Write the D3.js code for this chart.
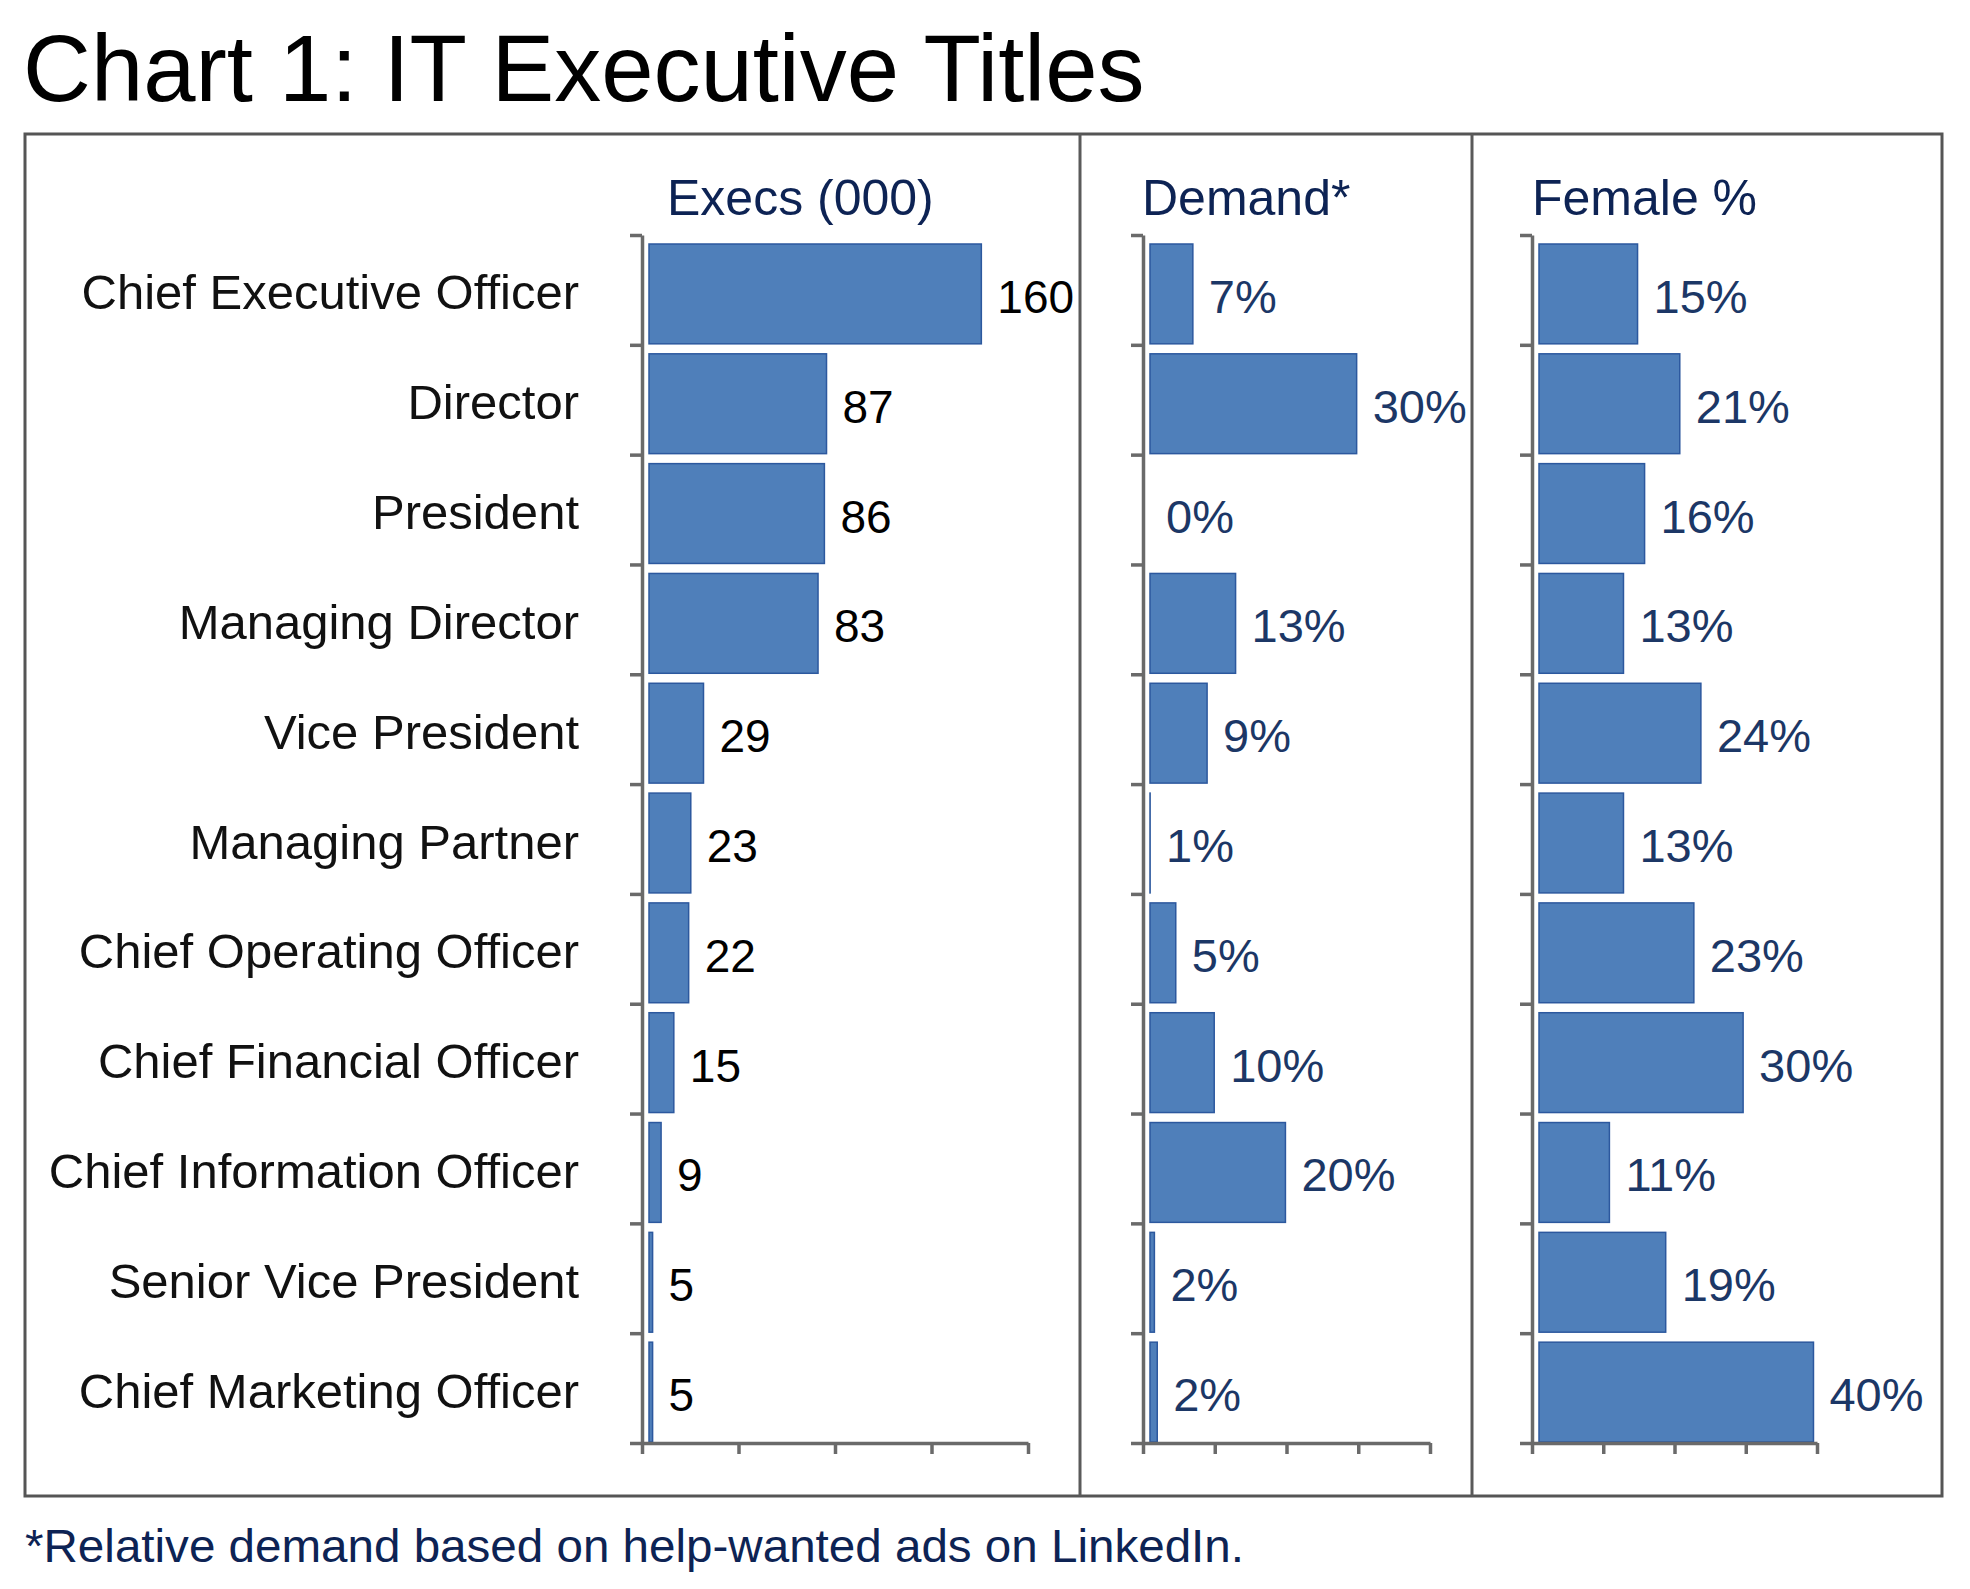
<!DOCTYPE html>
<html>
<head>
<meta charset="utf-8">
<script src="https://cdn.jsdelivr.net/npm/d3@7"></script>
<style>
  html, body { margin: 0; padding: 0; background: #ffffff; }
  svg { display: block; }
  text { font-family: "Liberation Sans", Arial, Helvetica, sans-serif; }
</style>
</head>
<body>
<svg id="chart" width="1970" height="1589"></svg>
<script>
// ---- data ----
const categories = [
  "Chief Executive Officer", "Director", "President", "Managing Director",
  "Vice President", "Managing Partner", "Chief Operating Officer",
  "Chief Financial Officer", "Chief Information Officer",
  "Senior Vice President", "Chief Marketing Officer"
];
const execs = [160, 87, 86, 83, 29, 23, 22, 15, 9, 5, 5];            // thousands
const demand = [7, 30, 0, 13, 9, 1, 4.6, 10, 20, 1.6, 2];            // % (labels rounded)
const female = [15, 21, 16, 13, 24, 13, 23, 30, 11, 19, 40];         // %
const panelTitles = ["Execs (000)", "Demand*", "Female %"];
const chartTitle = "Chart 1: IT Executive Titles";
const footnote = "*Relative demand based on help-wanted ads on LinkedIn.";

// ---- layout ----
const svg = d3.select("#chart");
const W = 1970, H = 1589;
svg.append("rect").attr("width", W).attr("height", H).attr("fill", "#fff");

const barFill = "#4f7fba", barStroke = "#2c589e";
const axisColor = "#6a6a6a";
const navy = "#0d2354";
const valNavy = "#1c3766";

// title
svg.append("text")
  .attr("x", 23).attr("y", 101)
  .attr("font-size", 94).attr("fill", "#000")
  .text(chartTitle);

// frame
const box = {x0: 25, y0: 134, x1: 1942, y1: 1496};
svg.append("rect")
  .attr("x", box.x0).attr("y", box.y0)
  .attr("width", box.x1 - box.x0).attr("height", box.y1 - box.y0)
  .attr("fill", "none").attr("stroke", "#555").attr("stroke-width", 3);
[1080, 1472].forEach(xd => {
  svg.append("line").attr("x1", xd).attr("x2", xd)
    .attr("y1", box.y0).attr("y2", box.y1)
    .attr("stroke", "#5a5a5a").attr("stroke-width", 3);
});

// footnote
svg.append("text")
  .attr("x", 25).attr("y", 1562)
  .attr("font-size", 46).attr("fill", navy)
  .attr("textLength", 1219).attr("lengthAdjust", "spacingAndGlyphs")
  .text(footnote);

// vertical scale
const y = d3.scaleBand().domain(categories).range([235, 1443]).padding(0);
const yB = d3.scaleLinear().domain([0, categories.length]).range([235, 1443]);

// category labels
svg.append("g").selectAll("text").data(categories).join("text")
  .attr("x", 579)
  .attr("y", d => y(d) + y.step() / 2 + 19.5)
  .attr("text-anchor", "end")
  .attr("font-size", 49).attr("fill", "#111")
  .text(d => d);

const panels = [
  {title: panelTitles[0], values: execs, axisX: 642, max: 182, width: 386,
   headX: 667, fs: 46, fmt: d => d3.format("d")(d), color: "#000"},
  {title: panelTitles[1], values: demand, axisX: 1143, max: 40.3, width: 287,
   headX: 1142, fs: 47, fmt: d => d3.format("d")(d) + "%", color: valNavy},
  {title: panelTitles[2], values: female, axisX: 1532, max: 40.5, width: 285,
   headX: 1532, fs: 47, fmt: d => d3.format("d")(d) + "%", color: valNavy}
];

const gap = 7;

panels.forEach(p => {
  const x = d3.scaleLinear().domain([0, p.max]).range([p.axisX, p.axisX + p.width]);
  const g = svg.append("g");

  // header
  g.append("text")
    .attr("x", p.headX).attr("y", 215)
    .attr("font-size", 50).attr("fill", navy)
    .text(p.title);

  // bars
  g.selectAll("rect.bar").data(p.values).join("rect")
    .attr("class", "bar")
    .attr("x", x(0) + gap)
    .attr("y", (d, i) => y(categories[i]) + 9)
    .attr("width", d => Math.max(0, x(d) - x(0) - gap))
    .attr("height", y.step() - 10)
    .attr("fill", barFill)
    .attr("stroke", barStroke).attr("stroke-width", 1.5);

  // value labels
  g.selectAll("text.val").data(p.values).join("text")
    .attr("class", "val")
    .attr("x", d => Math.max(x(d), x(0) + gap) + 16)
    .attr("y", (d, i) => y(categories[i]) + y.step() / 2 + 23)
    .attr("font-size", p.fs).attr("fill", p.color)
    .text(d => p.fmt(d));

  // y axis (ticks at band boundaries)
  const ya = g.append("g")
    .attr("transform", `translate(${p.axisX},0)`)
    .call(d3.axisLeft(yB).tickValues(d3.range(categories.length + 1))
      .tickSize(12).tickSizeOuter(0).tickFormat(""));
  // x axis (unlabelled quarter ticks)
  const xa = g.append("g")
    .attr("transform", `translate(0,1443)`)
    .call(d3.axisBottom(x).tickValues(d3.range(5).map(i => p.max * i / 4))
      .tickSize(11).tickSizeOuter(0).tickFormat(""));
  [ya, xa].forEach(a => {
    a.select(".domain").attr("stroke", axisColor).attr("stroke-width", 3.5);
    a.selectAll(".tick line").attr("stroke", axisColor).attr("stroke-width", 3.5);
  });
});
</script>
</body>
</html>
